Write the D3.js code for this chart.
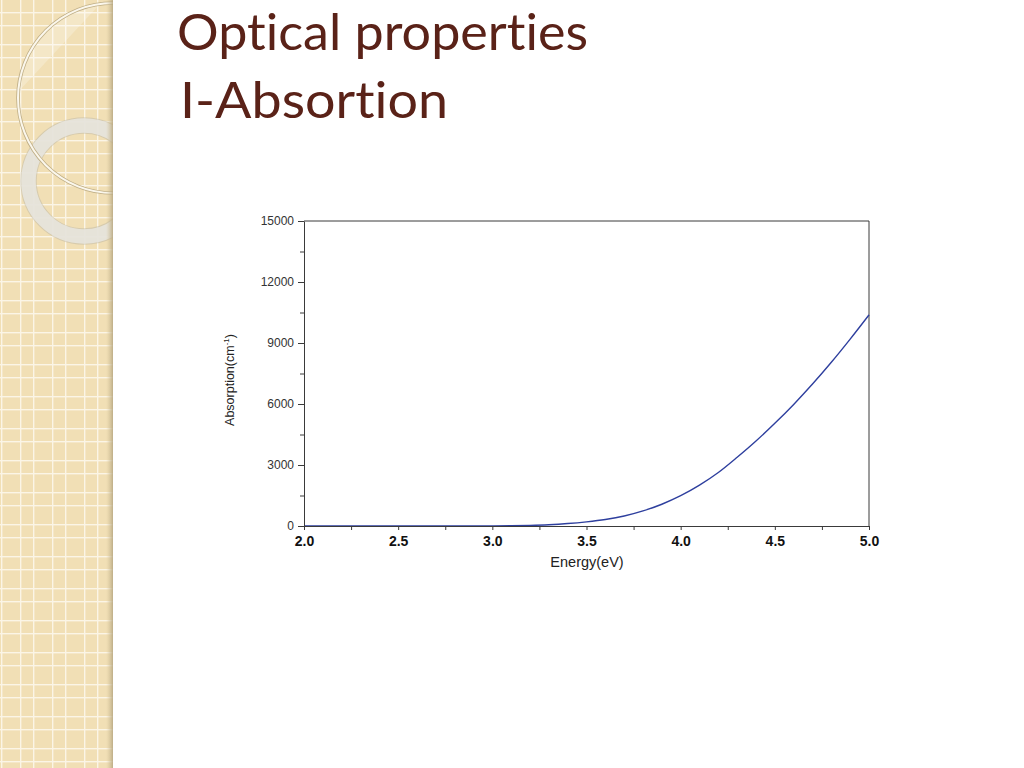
<!DOCTYPE html>
<html>
<head>
<meta charset="utf-8">
<script src="https://cdn.jsdelivr.net/npm/d3@7"></script>
<style>
  html, body { margin: 0; padding: 0; background: #fff; }
  svg { display: block; }
</style>
</head>
<body>
<svg id="chart" width="1024" height="768"></svg>
<script>
// ---- data ----
const titleLines = ["Optical properties", "I-Absortion"];
const energy = [2.0, 2.1, 2.2, 2.3, 2.4, 2.5, 2.6, 2.7, 2.8, 2.9, 3.0, 3.1, 3.2, 3.3, 3.4, 3.5, 3.6, 3.7, 3.8, 3.9, 4.0, 4.1, 4.2, 4.3, 4.4, 4.5, 4.6, 4.7, 4.8, 4.9, 5.0];
const absorption = [0, 0, 0, 0, 0, 0, 0, 0, 0, 0, 3, 10, 28, 62, 120, 205, 320, 490, 740, 1070, 1490, 2010, 2630, 3380, 4180, 5050, 5980, 6980, 8050, 9190, 10380];
const xTicks = [2.0, 2.25, 2.5, 2.75, 3.0, 3.25, 3.5, 3.75, 4.0, 4.25, 4.5, 4.75, 5.0];
const xLabeled = [2.0, 2.5, 3.0, 3.5, 4.0, 4.5, 5.0];
const yTicks = [0, 1500, 3000, 4500, 6000, 7500, 9000, 10500, 12000, 13500, 15000];
const yLabeled = [0, 3000, 6000, 9000, 12000, 15000];
const xTitle = "Energy(eV)";
const yTitle = "Absorption(cm";

const svg = d3.select("#chart");
const defs = svg.append("defs");

// ---- decorative left panel ----
const panelW = 113;
const pat = defs.append("pattern").attr("id", "grid").attr("patternUnits", "userSpaceOnUse")
  .attr("width", 32).attr("height", 32).attr("x", 20).attr("y", 12);
pat.append("rect").attr("width", 32).attr("height", 32).attr("fill", "#f1dfb5");
[0, 13].forEach(o => {
  pat.append("rect").attr("x", o).attr("y", 0).attr("width", 1.4).attr("height", 32).attr("fill", "#fbf5e6");
  pat.append("rect").attr("x", 0).attr("y", o).attr("width", 32).attr("height", 1.4).attr("fill", "#fbf5e6");
});
const shade = defs.append("linearGradient").attr("id", "shade").attr("x1", 0).attr("x2", 1);
shade.append("stop").attr("offset", "0").attr("stop-color", "#d8c89f").attr("stop-opacity", 0);
shade.append("stop").attr("offset", "1").attr("stop-color", "#b8a882").attr("stop-opacity", 0.9);
defs.append("clipPath").attr("id", "panelClip").append("rect").attr("width", panelW).attr("height", 768);

const panel = svg.append("g").attr("clip-path", "url(#panelClip)");
panel.append("rect").attr("width", panelW).attr("height", 768).attr("fill", "url(#grid)");
// light sheen inside big circle
panel.append("path").attr("d", "M18,92 A95,95 0 0 1 100,4 Z").attr("fill", "#fff").attr("opacity", 0.25);
// thick grey ring
panel.append("circle").attr("cx", 84).attr("cy", 181).attr("r", 55.5)
  .attr("fill", "none").attr("stroke", "#b9b3a3").attr("stroke-width", 16.5).attr("opacity", 0.45);
panel.append("circle").attr("cx", 84).attr("cy", 181).attr("r", 55.5)
  .attr("fill", "none").attr("stroke", "#e8e5de").attr("stroke-width", 14.5).attr("opacity", 0.9);
// thin ring
panel.append("circle").attr("cx", 113).attr("cy", 98).attr("r", 95)
  .attr("fill", "none").attr("stroke", "#bfae86").attr("stroke-width", 3.6);
panel.append("circle").attr("cx", 113).attr("cy", 98).attr("r", 95)
  .attr("fill", "none").attr("stroke", "#fbf7ec").attr("stroke-width", 2);
panel.append("rect").attr("x", panelW - 7).attr("width", 7).attr("height", 768).attr("fill", "url(#shade)");

// ---- title ----
const titleG = svg.append("g").style("fill", "#5a2218")
  .style("font-family", "'Lato', 'Open Sans', sans-serif").style("font-size", "50px")
  .style("font-variant-ligatures", "none").style("font-feature-settings", "'liga' 0");
titleG.append("text").attr("x", 177).attr("y", 50).text(titleLines[0])
  .attr("textLength", 411).attr("lengthAdjust", "spacingAndGlyphs");
titleG.append("text").attr("x", 180).attr("y", 118).text(titleLines[1])
  .attr("textLength", 268).attr("lengthAdjust", "spacingAndGlyphs");

// ---- chart ----
const x = d3.scaleLinear().domain([2, 5]).range([304, 869]);
const y = d3.scaleLinear().domain([0, 15000]).range([526, 221]);
const axisColor = "#3a3a3a";
const font = "'Liberation Sans', Arial, sans-serif";

// frame (top & right)
svg.append("line").attr("x1", x(2)).attr("x2", x(5)).attr("y1", y(15000)).attr("y2", y(15000))
  .attr("stroke", axisColor).attr("stroke-width", 1);
svg.append("line").attr("x1", x(5)).attr("x2", x(5)).attr("y1", y(15000)).attr("y2", y(0))
  .attr("stroke", axisColor).attr("stroke-width", 1);

// line
const line = d3.line().x((d, i) => x(energy[i])).y(d => y(d)).curve(d3.curveMonotoneX);
svg.append("path").datum(absorption).attr("d", line)
  .attr("fill", "none").attr("stroke", "#2e3f9e").attr("stroke-width", 1.4);

// x axis
const xAxis = d3.axisBottom(x).tickValues(xTicks).tickSize(4).tickPadding(6)
  .tickFormat(d => xLabeled.some(v => Math.abs(v - d) < 1e-9) ? d3.format(".1f")(d) : "");
const gx = svg.append("g").attr("transform", `translate(0,${y(0)})`).call(xAxis);
gx.select(".domain").attr("stroke", axisColor);
gx.selectAll(".tick line").attr("stroke", axisColor);
gx.selectAll("text").style("fill", "#111").style("font-family", font)
  .style("font-size", "14px").style("font-weight", "bold");

// y axis
const yAxis = d3.axisLeft(y).tickValues(yTicks).tickSizeOuter(0).tickPadding(4)
  .tickFormat(d => yLabeled.includes(d) ? String(d) : "");
const gy = svg.append("g").attr("transform", `translate(${x(2)},0)`).call(yAxis);
gy.select(".domain").attr("stroke", axisColor);
gy.selectAll(".tick line").attr("stroke", axisColor)
  .attr("x2", d => yLabeled.includes(d) ? -6 : -4);
gy.selectAll("text").style("fill", "#333").style("font-family", font).style("font-size", "12px")
  .attr("x", -10);

// axis titles
svg.append("text").attr("x", (x(2) + x(5)) / 2 + 0.5).attr("y", 567).attr("text-anchor", "middle")
  .style("fill", "#222").style("font-family", font).style("font-size", "14.5px").text(xTitle);

const yt = svg.append("text").attr("transform", `translate(234,380) rotate(-90)`)
  .attr("text-anchor", "middle").style("fill", "#222").style("font-family", font).style("font-size", "12.5px");
yt.append("tspan").text(yTitle);
yt.append("tspan").attr("dy", -5).style("font-size", "8px").text("-1");
yt.append("tspan").attr("dy", 5).text(")");
</script>
</body>
</html>
